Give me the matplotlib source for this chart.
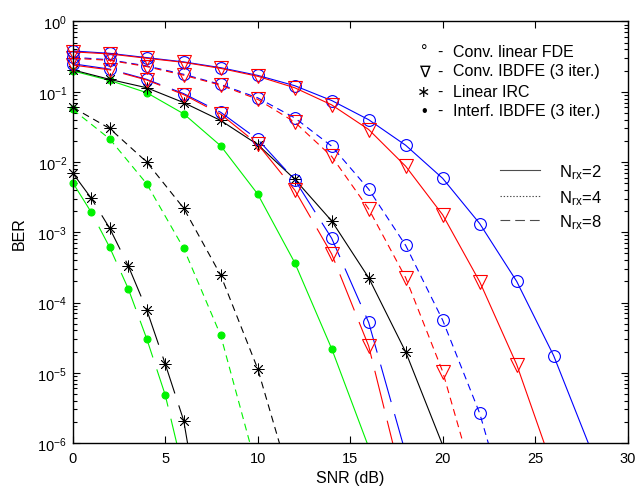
import numpy as np
import matplotlib
matplotlib.use("Agg")
import matplotlib.pyplot as plt

plt.rcParams['font.family'] = ['Liberation Sans', 'DejaVu Sans']
plt.rcParams['mathtext.fontset'] = 'custom'
plt.rcParams['mathtext.rm'] = 'Liberation Sans'
plt.rcParams['mathtext.it'] = 'Liberation Sans:italic'
plt.rcParams['axes.unicode_minus'] = False
plt.rcParams['lines.scale_dashes'] = False

# SNR grids (dB)
snr_a = [0, 2, 4, 6, 8, 10, 12, 14, 16, 18, 20, 22, 24, 26, 28]
snr_b = [0, 2, 4, 6, 8, 10, 12, 14, 16, 18, 20, 22, 24]
snr_c = [0, 2, 4, 6, 8, 10, 12, 14, 16, 18]
snr_d = [0, 2, 4, 6, 8, 10, 12, 14, 16, 18, 20]
snr_e = [0, 2, 4, 6, 8, 10, 12]
snr_f = [0, 1, 2, 3, 4, 5, 6, 7]

# Conv. linear FDE (blue, circles)
fde_2 = [0.381, 0.352, 0.306, 0.266, 0.220, 0.171, 0.122, 0.075, 0.040, 0.0173,
         5.85e-3, 1.33e-3, 2.0e-4, 1.75e-5, 8.2e-7]
fde_4 = [0.31, 0.285, 0.233, 0.177, 0.127, 0.082, 0.0425, 0.0168, 4.1e-3, 6.5e-4,
         5.6e-5, 2.65e-6, 4e-8]
fde_8 = [0.25, 0.21, 0.150, 0.094, 0.051, 0.021, 5.6e-3, 8.2e-4, 5.2e-5, 7.1e-7]

# Conv. IBDFE, 3 iterations (red, triangles)
ibdfe_2 = [0.37, 0.345, 0.300, 0.262, 0.215, 0.166, 0.114, 0.065, 0.029, 8.7e-3,
           1.77e-3, 1.98e-4, 1.31e-5, 4.1e-7, 1e-8]
ibdfe_4 = [0.30, 0.28, 0.228, 0.172, 0.124, 0.078, 0.037, 0.012, 2.15e-3, 2.25e-4,
           1.04e-5, 1.5e-7, 1e-9]
ibdfe_8 = [0.24, 0.205, 0.147, 0.091, 0.048, 0.018, 4.0e-3, 4.9e-4, 2.4e-5, 1.8e-7]

# Linear IRC (black, asterisks)
irc_2 = [0.205, 0.150, 0.114, 0.070, 0.039, 0.0177, 5.7e-3, 1.45e-3, 2.25e-4,
         1.98e-5, 9.3e-7]
irc_4 = [0.060, 0.030, 0.0100, 2.2e-3, 2.45e-4, 1.14e-5, 1.8e-7]
irc_8 = [6.97e-3, 3.06e-3, 1.14e-3, 3.34e-4, 7.9e-5, 1.34e-5, 2.09e-6, 6e-8]

# Interf. IBDFE, 3 iterations (green, dots)
iibdfe_2 = [0.198, 0.145, 0.097, 0.0485, 0.017, 3.5e-3, 3.7e-4, 2.2e-5, 8.7e-7]
iibdfe_4 = [0.056, 0.0213, 4.9e-3, 5.9e-4, 3.4e-5, 3.9e-7]
iibdfe_8 = [5.1e-3, 1.93e-3, 6.1e-4, 1.58e-4, 3.06e-5, 4.85e-6, 3.8e-7]

nrx_labels = [r'N$_{\mathrm{rx}}$=2', r'N$_{\mathrm{rx}}$=4', r'N$_{\mathrm{rx}}$=8']
scheme_symbols = ['°', '∇', '∗', '•']
scheme_labels = ['Conv. linear FDE', 'Conv. IBDFE (3 iter.)', 'Linear IRC',
                 'Interf. IBDFE (3 iter.)']

YMIN, YMAX = 1e-6, 1.0
short_dash = (0, (5, 3.5))
long_dash = (0, (28, 9))

BLUE = (0, 0, 1)
RED = (1, 0, 0)
GREEN = (0, 0.95, 0)
STAR = (8, 2, 0)

fig = plt.figure(figsize=(6.41, 4.89), dpi=100)
ax = fig.add_axes([0.1134, 0.092, 0.8658, 0.862])


def curve(x, y, color, ls, marker, ms, mfc='none', mew=0.8):
    x = np.asarray(x, float)
    y = np.asarray(y, float)
    ax.plot(x, y, color=color, ls=ls, lw=0.8)
    keep = y >= YMIN   # markers under the axis floor are not shown
    ax.plot(x[keep], y[keep], ls='none', marker=marker, ms=ms, mfc=mfc,
            mec=color, mew=mew, clip_on=False)


curve(snr_f[:7], iibdfe_8, GREEN, long_dash, 'o', 5, GREEN)
curve(snr_f, irc_8, 'k', long_dash, STAR, 8.5, mew=0.6)
curve(snr_e[:6], iibdfe_4, GREEN, short_dash, 'o', 5, GREEN)
curve(snr_e, irc_4, 'k', short_dash, STAR, 8.5, mew=0.6)
curve(snr_c[:9], iibdfe_2, GREEN, '-', 'o', 5, GREEN)
curve(snr_d, irc_2, 'k', '-', STAR, 8.5, mew=0.6)

curve(snr_c, fde_8, BLUE, long_dash, 'o', 8.5)
curve(snr_c, ibdfe_8, RED, long_dash, 'v', 9.5)
curve(snr_b, fde_4, BLUE, short_dash, 'o', 8.5)
curve(snr_b, ibdfe_4, RED, short_dash, 'v', 9.5)
curve(snr_a, fde_2, BLUE, '-', 'o', 8.5)
curve(snr_a, ibdfe_2, RED, '-', 'v', 9.5)

ax.set_yscale('log')
ax.set_xlim(0, 30)
ax.set_ylim(YMIN, YMAX)
ax.set_xticks(range(0, 31, 5))
ax.tick_params(which='both', direction='in', top=True, right=True,
               labelsize=10.5, width=0.8)
ax.tick_params(which='major', length=5)
ax.tick_params(which='minor', length=3)
ax.tick_params(axis='x', pad=6)
ax.tick_params(axis='y', pad=4)
for s in ax.spines.values():
    s.set_linewidth(1.0)

ax.set_xlabel('SNR (dB)', fontsize=11.5, labelpad=3)
ax.set_ylabel('BER', fontsize=11.5, labelpad=8)

# scheme "legend" written as text
rows_y = [0.919, 0.872, 0.824, 0.778]
for sym, lab, yy in zip(scheme_symbols, scheme_labels, rows_y):
    ax.text(0.633, yy, sym, transform=ax.transAxes, ha='center', va='baseline',
            fontsize=11.5)
    ax.text(0.662, yy, '-', transform=ax.transAxes, ha='center', va='baseline',
            fontsize=11.5)
    ax.text(0.686, yy, lab, transform=ax.transAxes, ha='left', va='baseline',
            fontsize=11.5)

# Nrx line style key
key_y = [0.648, 0.587, 0.530]
key_ls = ['-', (0, (1, 1.3)), (0, (7, 3.6))]
for lab, yy, ls in zip(nrx_labels, key_y, key_ls):
    ax.plot([0.770, 0.842], [yy, yy], transform=ax.transAxes, color='0.3',
            ls=ls, lw=0.8)
    ax.text(0.876, yy - 0.016, lab, transform=ax.transAxes, ha='left',
            va='baseline', fontsize=12)

fig.savefig('out.png', dpi=100)
